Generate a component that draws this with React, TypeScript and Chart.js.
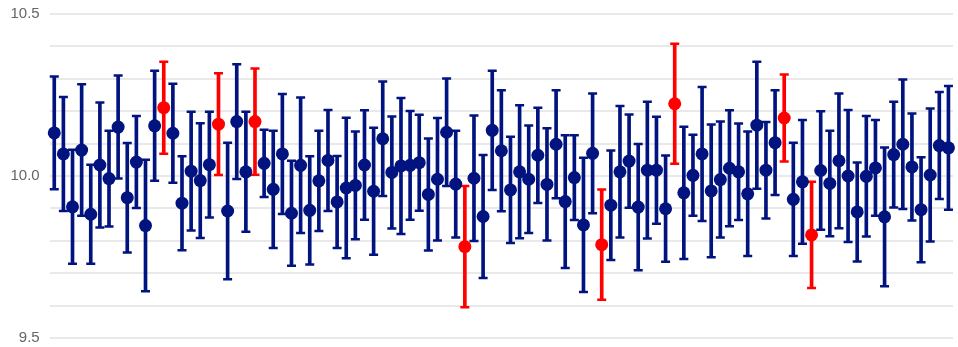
import React, { useEffect, useRef } from "react";
import { Chart, registerables } from "chart.js";
Chart.register(...registerables);

const samples: string[] = Array.from({ length: 99 }, (_, i) => String(i + 1));

const means: number[] = [
  10.133, 10.068, 9.905, 10.08, 9.882, 10.034, 9.992, 10.151, 9.933, 10.043,
  9.847, 10.155, 10.211, 10.132, 9.916, 10.015, 9.986, 10.035, 10.16, 9.892,
  10.168, 10.013, 10.168, 10.039, 9.959, 10.068, 9.885, 10.033, 9.894, 9.985,
  10.048, 9.92, 9.963, 9.971, 10.034, 9.953, 10.115, 10.011, 10.031, 10.033,
  10.041, 9.943, 9.99, 10.135, 9.975, 9.782, 9.993, 9.875, 10.141, 10.078,
  9.957, 10.013, 9.99, 10.064, 9.974, 10.098, 9.921, 9.995, 9.849, 10.07,
  9.788, 9.91, 10.013, 10.046, 9.904, 10.018, 10.018, 9.899, 10.223, 9.948,
  10.002, 10.068, 9.954, 9.989, 10.024, 10.013, 9.945, 10.157, 10.018, 10.103,
  10.179, 9.928, 9.982, 9.818, 10.017, 9.977, 10.047, 10.0, 9.889, 9.999,
  10.025, 9.874, 10.066, 10.098, 10.028, 9.896, 10.003, 10.094, 10.087,
];

const errors: number[] = [
  0.174, 0.176, 0.176, 0.203, 0.153, 0.193, 0.148, 0.159, 0.169, 0.142,
  0.203, 0.17, 0.142, 0.153, 0.145, 0.183, 0.177, 0.163, 0.157, 0.211,
  0.177, 0.185, 0.164, 0.104, 0.181, 0.185, 0.162, 0.209, 0.167, 0.155,
  0.156, 0.142, 0.217, 0.166, 0.169, 0.196, 0.177, 0.173, 0.21, 0.168,
  0.148, 0.173, 0.189, 0.166, 0.165, 0.187, 0.194, 0.19, 0.184, 0.187,
  0.164, 0.205, 0.166, 0.147, 0.173, 0.167, 0.205, 0.131, 0.207, 0.185,
  0.17, 0.169, 0.203, 0.144, 0.195, 0.211, 0.165, 0.164, 0.185, 0.204,
  0.125, 0.207, 0.205, 0.179, 0.179, 0.149, 0.192, 0.196, 0.149, 0.162,
  0.134, 0.175, 0.191, 0.164, 0.183, 0.163, 0.208, 0.204, 0.153, 0.186,
  0.148, 0.214, 0.163, 0.2, 0.165, 0.162, 0.205, 0.165, 0.191,
];

const target = 10.0;
const yMin = 9.5;
const yMax = 10.5;
const yStep = 0.1;
const yTickLabels: string[] = ["9.5", "10.0", "10.5"];

const NAVY = "#00137f";
const RED = "#ff0000";

export default function App() {
  const ref = useRef<HTMLCanvasElement>(null);

  useEffect(() => {
    document.body.style.margin = "0";
    document.body.style.overflow = "hidden";
    const lo = means.map((m, i) => m - errors[i]);
    const hi = means.map((m, i) => m + errors[i]);
    const colors = means.map((_, i) => (lo[i] > target || hi[i] < target ? RED : NAVY));

    const chart = new Chart(ref.current!, {
      type: "bar",
      data: {
        labels: samples,
        datasets: [
          {
            type: "line",
            data: means,
            showLine: false,
            pointRadius: 6.5,
            pointHoverRadius: 6.5,
            pointBackgroundColor: colors,
            pointBorderColor: colors,
            pointBorderWidth: 0,
            order: 0,
          } as any,
          {
            type: "line",
            data: hi,
            showLine: false,
            pointStyle: "line",
            pointRadius: 4.5,
            pointBorderColor: colors,
            pointBackgroundColor: colors,
            pointBorderWidth: 2.5,
            order: 1,
          } as any,
          {
            type: "line",
            data: lo,
            showLine: false,
            pointStyle: "line",
            pointRadius: 4.5,
            pointBorderColor: colors,
            pointBackgroundColor: colors,
            pointBorderWidth: 2.5,
            order: 1,
          } as any,
          {
            type: "bar",
            data: lo.map((l, i) => [l, hi[i]]),
            backgroundColor: colors,
            borderWidth: 0,
            barThickness: 3,
            order: 2,
          } as any,
        ],
      },
      options: {
        animation: false,
        responsive: true,
        maintainAspectRatio: false,
        events: [],
        layout: { padding: { top: 14, bottom: 9, left: 0, right: 0.7 } },
        plugins: { legend: { display: false }, tooltip: { enabled: false } },
        scales: {
          x: { display: false },
          y: {
            min: yMin,
            max: yMax,
            border: { display: false },
            grid: { color: "#e9e9e9", lineWidth: 2, drawTicks: false },
            ticks: {
              stepSize: yStep,
              autoSkip: false,
              padding: 10,
              color: "#666666",
              font: { size: 15, family: "'Liberation Sans', Arial, sans-serif" },
              callback: (v: any) => {
                const s = Number(v).toFixed(1);
                return yTickLabels.includes(s) ? s : "";
              },
            },
            afterFit: (s: any) => {
              s.width = 49.7;
              s.paddingTop = 0;
              s.paddingBottom = 0;
            },
          },
        },
      } as any,
    });
    return () => chart.destroy();
  }, []);

  return (
    <div style={{ position: "fixed", left: 0, top: 0, width: 958, height: 347, overflow: "hidden" }}>
      <div style={{ position: "relative", width: 960, height: 347 }}>
        <canvas ref={ref} />
      </div>
    </div>
  );
}
